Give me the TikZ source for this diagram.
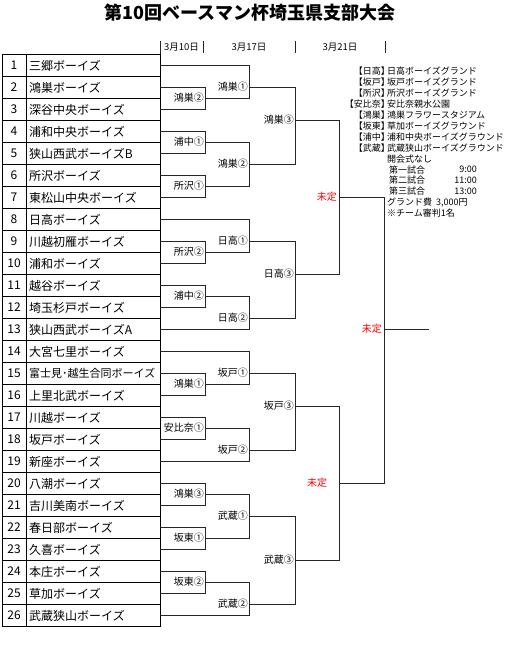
\documentclass[tikz,border=0pt]{standalone}
\usepackage{fontspec}
\newfontfamily\jp{Noto Sans CJK JP}
\begin{document}
\begin{tikzpicture}[x=1pt,y=-1pt,
  ln/.style={line width=0.9pt, black!85},
  tbl/.style={line width=0.8pt, black},
  num/.style={font=\jp\fontsize{12}{12}\selectfont, anchor=center, inner sep=0pt},
  team/.style={font=\jp\fontsize{12}{12}\selectfont, anchor=west, inner sep=0pt},
  lab/.style={font=\jp\fontsize{10}{10}\selectfont, anchor=east, inner sep=0.5pt},
  tbd/.style={font=\jp\fontsize{10}{10}\selectfont, text=red, inner sep=0.5pt},
  leg/.style={font=\jp\fontsize{9}{9}\selectfont, inner sep=0pt},
  hdr/.style={font=\jp\fontsize{9.5}{9.5}\selectfont, inner sep=0pt}]
\useasboundingbox (0,0) rectangle (510,648);
\fill[white] (0,0) rectangle (510,648);
% title
\node[font=\jp\bfseries\fontsize{18}{18}\selectfont, inner sep=0pt] (title) at (250,13) {第10回ベースマン杯埼玉県支部大会};
% header
\draw[ln] (160,41) -- (160,54);
\draw[ln] (203,41) -- (203,53);
\draw[ln] (295,41) -- (295,53);
\draw[ln] (385,41) -- (385,53);
\node[hdr] (h1) at (181.5,47) {3月10日};
\node[hdr] (h2) at (249,47) {3月17日};
\node[hdr] (h3) at (340,47) {3月21日};
% table
\foreach \i/\name in {1/三郷ボーイズ, 2/鴻巣ボーイズ, 3/深谷中央ボーイズ, 4/浦和中央ボーイズ,
  5/狭山西武ボーイズB, 6/所沢ボーイズ, 7/東松山中央ボーイズ, 8/日高ボーイズ,
  9/川越初雁ボーイズ, 10/浦和ボーイズ, 11/越谷ボーイズ, 12/埼玉杉戸ボーイズ,
  13/狭山西武ボーイズA, 14/大宮七里ボーイズ, 15/{\fontsize{11}{11}\selectfont 富士見･越生合同ボーイズ},
  16/上里北武ボーイズ, 17/川越ボーイズ, 18/坂戸ボーイズ, 19/新座ボーイズ, 20/八潮ボーイズ,
  21/吉川美南ボーイズ, 22/春日部ボーイズ, 23/久喜ボーイズ, 24/本庄ボーイズ, 25/草加ボーイズ,
  26/武蔵狭山ボーイズ}{
  \pgfmathsetmacro\tp{54+22*(\i-1)}
  \draw[tbl] (2,\tp) rectangle (160,\tp+22);
  \node[num] (n\i) at (14,\tp+11) {\i};
  \node[team] (tm\i) at (29,\tp+11.5) {\name};
  \coordinate (t\i) at (160,\tp+11);
}
\draw[tbl] (26,54) -- (26,626);
% bracket macro
\newcommand\mymatch[5]{%
  \coordinate (#1) at (#4,#5);
  \draw[ln] (#2) -| (#1);
  \draw[ln] (#3) -| (#1);
}
% round 1
\mymatch{r1a}{t2}{t3}{205}{98}
\mymatch{r1b}{t4}{t5}{205}{142}
\mymatch{r1c}{t6}{t7}{205}{186}
\mymatch{r1d}{t9}{t10}{205}{252}
\mymatch{r1e}{t11}{t12}{205}{296}
\mymatch{r1f}{t15}{t16}{205}{384}
\mymatch{r1g}{t17}{t18}{205}{428}
\mymatch{r1h}{t20}{t21}{205}{494}
\mymatch{r1i}{t22}{t23}{205}{538}
\mymatch{r1j}{t24}{t25}{205}{582}
% round 2
\mymatch{r2a}{t1}{r1a}{249}{87}
\mymatch{r2b}{r1b}{r1c}{249}{164}
\mymatch{r2c}{t8}{r1d}{249}{241}
\mymatch{r2d}{r1e}{t13}{249}{318}
\mymatch{r2e}{t14}{r1f}{249}{373}
\mymatch{r2f}{r1g}{t19}{249}{450}
\mymatch{r2g}{r1h}{r1i}{249}{516}
\mymatch{r2h}{r1j}{t26}{249}{604}
% round 3
\mymatch{r3a}{r2a}{r2b}{295}{120}
\mymatch{r3b}{r2c}{r2d}{295}{274}
\mymatch{r3c}{r2e}{r2f}{295}{406}
\mymatch{r3d}{r2g}{r2h}{295}{560}
% round 4
\mymatch{r4a}{r3a}{r3b}{339}{197}
\mymatch{r4b}{r3c}{r3d}{339}{483}
% final
\mymatch{r5}{r4a}{r4b}{384}{329}
\coordinate (fin) at (429,329);
\draw[ln] (r5) -- (fin);
% labels
\foreach \m/\t in {r1a/鴻巣②, r1b/浦中①, r1c/所沢①, r1d/所沢②, r1e/浦中②, r1f/鴻巣①,
  r1g/安比奈①, r1h/鴻巣③, r1i/坂東①, r1j/坂東②,
  r2a/鴻巣①, r2b/鴻巣②, r2c/日高①, r2d/日高②, r2e/坂戸①, r2f/坂戸②, r2g/武蔵①, r2h/武蔵②,
  r3a/鴻巣③, r3b/日高③, r3c/坂戸③, r3d/武蔵③}{
  \node[lab] (\m L) at ([xshift=-0.5pt]\m) {\t};
}
\node[tbd, anchor=east] (r4aL) at ([xshift=-1.5pt]r4a) {未定};
\node[tbd] (r4bL) at (317,483) {未定};
\node[tbd, anchor=east] (r5L) at ([xshift=-1.5pt]r5) {未定};
% legend
\foreach \k/\a/\b in {0/【日高】/日高ボーイズグランド, 1/【坂戸】/坂戸ボーイズグランド,
  2/【所沢】/所沢ボーイズグランド, 3/【安比奈】/安比奈親水公園, 4/【鴻巣】/鴻巣フラワースタジアム,
  5/【坂東】/草加ボーイズグラウンド, 6/【浦中】/浦和中央ボーイズグラウンド, 7/【武蔵】/武蔵狭山ボーイズグラウンド}{
  \node[leg, anchor=east] (ka\k) at (390,71.5+10.9*\k) {\a};
  \node[leg, anchor=west] (kb\k) at (387,71.5+10.9*\k) {\b};
}
\node[leg, anchor=west] (open) at (387,158.7) {開会式なし};
\node[leg, anchor=west] (g1) at (389,169.6) {第一試合};
\node[leg, anchor=east] (g1t) at (477,169.6) {9:00};
\node[leg, anchor=west] (g2) at (389,180.5) {第二試合};
\node[leg, anchor=east] (g2t) at (477,180.5) {11:00};
\node[leg, anchor=west] (g3) at (389,191.4) {第三試合};
\node[leg, anchor=east] (g3t) at (477,191.4) {13:00};
\node[leg, anchor=west] (fee) at (387,202.3) {グランド費\hspace{4pt}3,000円};
\node[leg, anchor=west] (ump) at (387,213.2) {※チーム審判1名};
\end{tikzpicture}
\end{document}
